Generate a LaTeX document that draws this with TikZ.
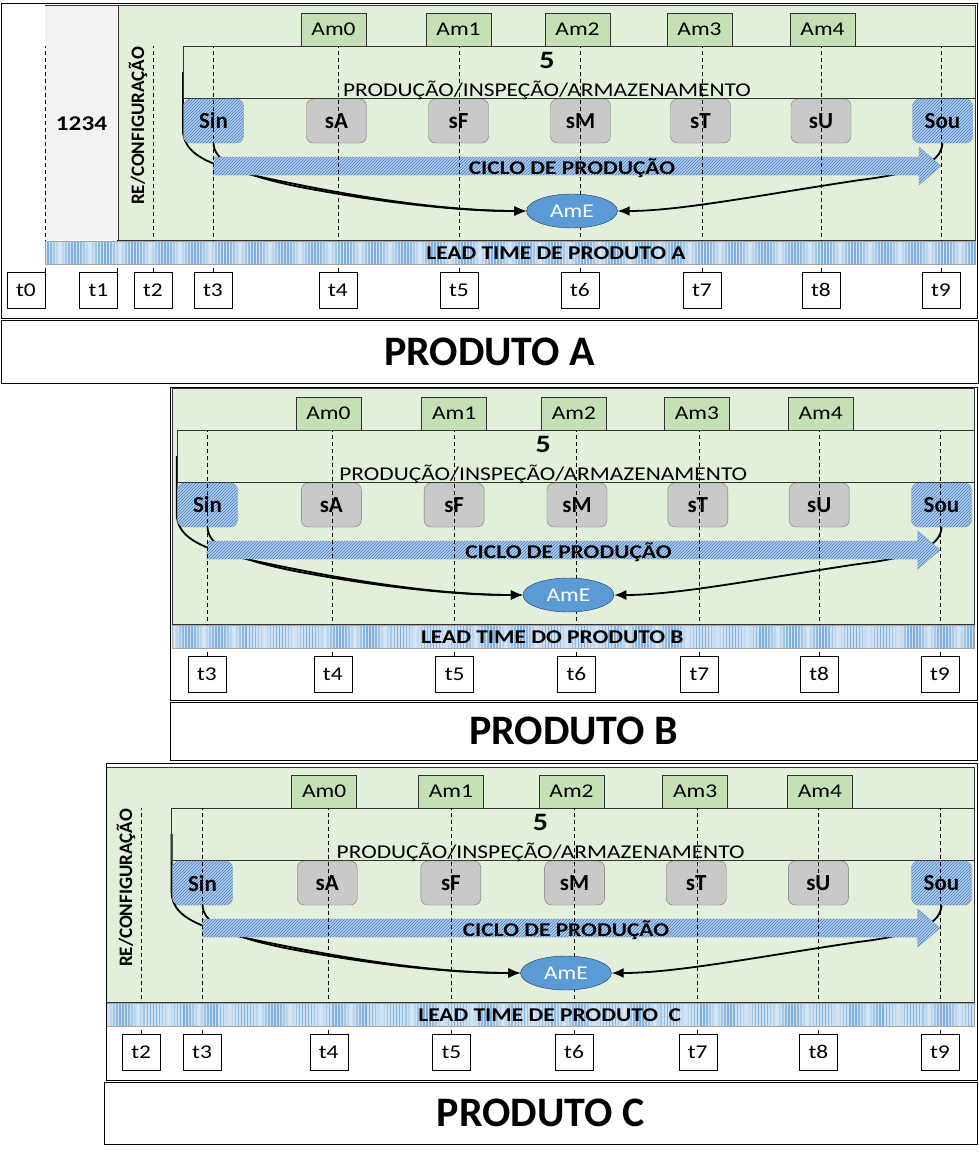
\documentclass[tikz,border=0pt]{standalone}
\usepackage{fontspec}
\setmainfont{Carlito}[FakeStretch = 1.2]
\newfontfamily\plainfont{Carlito}
\usetikzlibrary{shapes.geometric, patterns, arrows.meta}

\definecolor{areagreen}{HTML}{E2EFDA}
\definecolor{amgreen}{HTML}{C5E0B4}
\definecolor{grayarea}{HTML}{F2F2F2}
\definecolor{cellgray}{HTML}{C9C9C9}
\definecolor{hatchback}{HTML}{B4D0EE}
\definecolor{hatchline}{HTML}{3F78BF}
\definecolor{hatchedge}{HTML}{7F97B2}
\definecolor{storeblue}{HTML}{5B9BD5}
\definecolor{storeedge}{HTML}{1F3864}
\definecolor{bandblue}{HTML}{5B9BD5}

\pgfdeclarelayer{back}
\pgfdeclarelayer{links}
\pgfsetlayers{back,links,main}

\tikzset{
	zone/.style = {draw = black!80, fill = areagreen},
	ambox/.style = {draw = black!80, fill = amgreen, minimum width = 65pt, minimum height = 33pt, inner sep = 0pt},
	cell/.style = {draw = black!55, fill = cellgray, rounded corners = 7pt, minimum width = 60pt, minimum height = 44pt, inner sep = 0pt, font = \plainfont\bfseries\fontsize{23}{23}\selectfont},
	hatch/.style = {draw = hatchedge, preaction = {fill = hatchback}, pattern = north east lines, pattern color = hatchline},
	cellio/.style = {cell, hatch},
	store/.style = {ellipse, draw = storeedge, fill = storeblue, text = white, minimum width = 91pt, minimum height = 34pt, inner sep = 0pt},
	flow/.style = {->, line width = 1.8pt},
	guide/.style = {dash pattern = on 4pt off 3pt, line width = 1pt},
	tbox/.style = {draw, fill = white, minimum width = 38pt, minimum height = 36pt, inner sep = 0pt},
	titlebox/.style = {draw, minimum height = 62pt, inner sep = 0pt, font = \plainfont\bfseries\fontsize{42}{42}\selectfont},
	reconf/.style = {rotate = 90, font = \plainfont\bfseries\fontsize{19}{19}\selectfont}
}

% one production line, in the coordinates of product A
\newcommand{\prodline}[1]{%
	\coordinate (#1-top) at (0,46);
	\coordinate (#1-bottom) at (0,240);
	
	% work zone
	
	\draw [black!80] (183,46) rectangle (975,98);
	\node [font = \bfseries\fontsize{25}{25}\selectfont] (#1-five) at (547,60) {5};
	\node (#1-zone) at (547,90) {PRODUÇÃO/INSPEÇÃO/ARMAZENAMENTO};
	
	% buffers
	
	\foreach \name/\x in {Am0/333.5, Am1/458.5, Am2/577.5, Am3/699.5, Am4/822.5}
		\node [ambox] (#1-\name) at (\x,29.5) {\name};
	
	% stations
	
	\node [cellio] (#1-Sin) at (213.5,121) {Sin};
	\foreach \name/\x in {sA/336.5, sF/458.5, sM/580.5, sT/700.5, sU/821}
		\node [cell] (#1-\name) at (\x,121) {\name};
	\node [cellio] (#1-Sou) at (942.5,121) {Sou};
	
	% cycle
	
	\path [hatch] (213,157) -- (919,157) -- (919,147) -- (941,166) -- (919,185) -- (919,175) -- (213,175) -- cycle;
	\node [font = \bfseries] (#1-cycle) at (572,168) {CICLO DE PRODUÇÃO};
	
	% time marks
	
	\foreach \i/\x in {3/213, 4/338, 5/459, 6/580, 7/702, 8/821, 9/941} {
		\node [tbox] (#1-t\i) at (\x,290) {t\i};
		\draw [guide] (#1-t\i.north) -- (#1-t\i.north |- #1-top);
	}
	
	% end store
	
	\node [store] (#1-AmE) at (572,211) {AmE};
	\coordinate (#1-in) at (183,72);
	\begin{pgfonlayer}{links}
		\draw [flow] (#1-in) -- (183,130) .. controls (183,162) and (230,171) .. (300,185) .. controls (400,205) and (470,211) .. (#1-AmE.west);
		\draw [flow] (#1-Sin.south) .. controls (214,160) and (235,174) .. (300,187) .. controls (400,206) and (470,211) .. (#1-AmE.west);
		\draw [flow] (#1-Sou.south) .. controls (941,160) and (925,172) .. (860,180) .. controls (760,195) and (680,211) .. (#1-AmE.east);
	\end{pgfonlayer}
}

% lead time band
\newcommand{\leadband}[3]{%
	\fill [bandblue!30] (#2,241) rectangle (975,264);
	\begin{scope}
		\clip (#2,241) rectangle (975,264);
		\foreach \x in {0,3,...,975} {
			\pgfmathtruncatemacro\k{25 + 55*abs(sin(\x*6))}
			\draw [bandblue!\k!white, line width = 1.5pt] (\x,241) -- (\x,264);
		}
	\end{scope}
	\draw [black!35] (#2,241) rectangle (975,264);
	\node [font = \bfseries] (#1-lead) at (556,253) {#3};
}

\begin{document}
\fontsize{19.5}{20}\selectfont
\begin{tikzpicture}[> = {Latex[length = 12pt, width = 10pt]}, x = 1pt, y = -1pt, line width = 1pt]
\useasboundingbox (0,0) rectangle (979,1165);

% Product A

\begin{pgfonlayer}{back}
	\fill [grayarea] (45,5) rectangle (118,240);
	\draw [black!80] (45,5) -- (118,5);
	\draw [zone] (118,5) rectangle (975,240);
\end{pgfonlayer}
\node [font = \bfseries\fontsize{21}{21}\selectfont] (A-batch) at (81.5,124) {1234};
\node [reconf] (A-reconf) at (138,126) {RE/CONFIGURAÇÃO};
\prodline{A}
\node [tbox] (A-t0) at (26,290) {t0};
\node [tbox] (A-t1) at (98.5,290) {t1};
\node [tbox] (A-t2) at (153,290) {t2};
\draw [guide] (A-t0.north east) -- (A-t0.north east |- A-top);
\draw [guide] (A-t1.north east) -- (A-t1.north east |- A-bottom);
\draw [guide] (A-t2.north) -- (A-t2.north |- A-top);
\leadband{A}{45}{LEAD TIME DE PRODUTO A}
\draw (1,3) rectangle (977,318);
\node [titlebox, minimum width = 977pt, minimum height = 63pt] (A-title) at (489.5,351.5) {PRODUTO A};

% Product B

\begin{scope}[yshift = -384pt, xshift = -7.5pt, xscale = 1.0069]
	\begin{pgfonlayer}{back}
		\draw [zone] (178,4) rectangle (975,240);
	\end{pgfonlayer}
	\prodline{B}
	\leadband{B}{178}{LEAD TIME DO PRODUTO B}
\end{scope}
\draw (170,387) rectangle (977,700);
\node [titlebox, minimum width = 807pt, minimum height = 58pt] (B-title) at (573.5,731) {PRODUTO B};

% Product C

\begin{scope}[yshift = -762pt, xshift = -13.9pt, xscale = 1.0137]
	\begin{pgfonlayer}{back}
		\draw [zone] (118,5) rectangle (975,240);
	\end{pgfonlayer}
	\node [reconf] (C-reconf) at (138,126) {RE/CONFIGURAÇÃO};
	\prodline{C}
	\node [tbox] (C-t2) at (153,290) {t2};
	\draw [guide] (C-t2.north) -- (C-t2.north |- C-top);
	\leadband{C}{118}{LEAD TIME DE PRODUTO~~C}
\end{scope}
\draw (106,763) rectangle (977,1080);
\node [titlebox, minimum width = 873pt] (C-title) at (540.5,1113) {PRODUTO C};

\end{tikzpicture}
\end{document}
